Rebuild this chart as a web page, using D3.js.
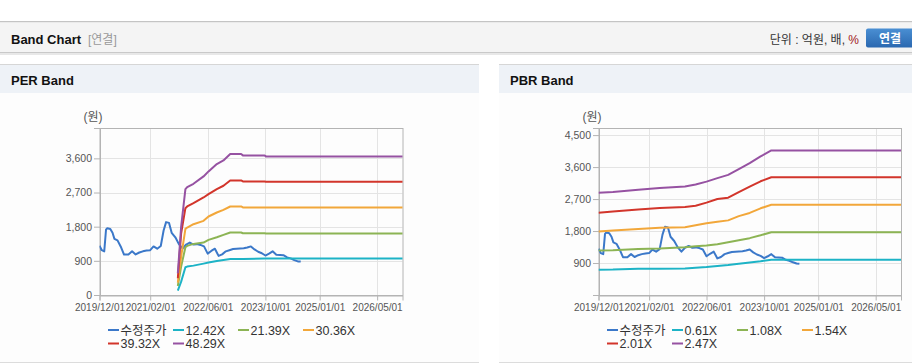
<!DOCTYPE html>
<html><head><meta charset="utf-8">
<script src="https://cdn.jsdelivr.net/npm/d3@7"></script>
<style>
body{margin:0;background:#fff;width:912px;height:364px;overflow:hidden;font-family:"Liberation Sans","Noto Sans CJK KR",Arial,sans-serif;}
</style></head>
<body><svg id="c" width="912" height="364"></svg>
<script>
// ---------- data ----------
const xTickLabels = ["2019/12/01","2021/02/01","2022/06/01","2023/10/01","2025/01/01","2026/05/01"];
const xDomain = ["2019-12-01","2026-12-01"];

const priceDates = ["2019-12-01","2019-12-20","2020-01-10","2020-01-25","2020-02-05","2020-03-01","2020-03-20","2020-04-05","2020-05-01","2020-06-01","2020-06-25","2020-08-01","2020-09-01","2020-10-01","2020-11-01","2020-12-01","2021-01-01","2021-02-01","2021-03-01","2021-04-01","2021-05-01","2021-05-25","2021-06-15","2021-07-10","2021-08-01","2021-09-01","2021-10-01","2021-11-01","2021-12-01","2022-01-01","2022-02-01","2022-03-01","2022-04-01","2022-05-01","2022-06-01","2022-07-01","2022-08-01","2022-09-01","2022-10-01","2022-11-01","2022-12-01","2023-01-01","2023-02-01","2023-03-01","2023-04-01","2023-05-01","2023-06-01","2023-07-01","2023-08-01","2023-09-01","2023-10-01","2023-11-01","2023-12-01","2024-01-01","2024-02-01","2024-03-01","2024-04-01","2024-05-01","2024-06-01","2024-07-01","2024-07-25"];
const priceValues = [1300,1180,1150,1720,1760,1740,1640,1480,1440,1250,1065,1065,1150,1070,1120,1150,1170,1180,1280,1220,1290,1700,1920,1900,1640,1520,1340,1220,1330,1380,1330,1340,1320,1280,1090,1160,1220,1030,1070,1150,1180,1210,1220,1225,1230,1250,1280,1200,1140,1100,1040,1090,1150,1060,1055,1050,990,965,920,885,880];

const perLabels = ["수정주가","12.42X","21.39X","30.36X","39.32X","48.29X"];
const perDates = ["2021-09-22","2021-10-20","2021-11-25","2021-12-10","2022-02-01","2022-04-27","2022-06-08","2022-08-17","2022-10-12","2022-12-08","2023-03-10","2023-03-25","2023-09-25","2023-10-05","2026-12-01"];
const per1242 = [114,352,730,748,774,827,854,898,924,950,950,950,959,959,959];
const per2139 = [238,748,1258,1294,1346,1382,1452,1522,1584,1646,1646,1628,1628,1619,1619];
const per3036 = [326,1012,1742,1778,1866,1954,2068,2174,2244,2332,2332,2306,2306,2306,2306];
const per3932 = [440,1628,2288,2332,2420,2570,2658,2790,2878,3018,3018,2992,2992,2983,2983];
const per4829 = [572,1804,2790,2842,2930,3124,3256,3450,3546,3714,3714,3678,3678,3652,3652];
const perYTicks = [0,900,1800,2700,3600];

const pbrLabels = ["수정주가","0.61X","1.08X","1.54X","2.01X","2.47X"];
const pbrDates = ["2019-12-01","2020-04-01","2020-11-01","2021-05-01","2021-12-01","2022-03-01","2022-06-01","2022-09-01","2022-12-01","2023-03-01","2023-06-01","2023-09-01","2023-12-01","2026-12-01"];
const pbr061 = [711,715,740,742,749,770,787,815,843,880,915,950,994,994];
const pbr108 = [1249,1260,1296,1310,1343,1370,1390,1430,1484,1540,1600,1680,1767,1767];
const pbr154 = [1786,1814,1858,1890,1908,1960,2020,2060,2100,2219,2310,2440,2540,2540];
const pbr201 = [2314,2351,2405,2446,2480,2510,2600,2700,2740,2898,3050,3200,3313,3313];
const pbr247 = [2879,2898,2960,3011,3055,3110,3190,3290,3380,3540,3710,3900,4067,4067];
const pbrYTicks = [900,1800,2700,3600,4500];

const colors = ["#3b78c9","#1db3c6","#8cb454","#f2a73a","#d2352b","#9652a2"];

// ---------- page chrome ----------
const svg = d3.select("#c");
const parse = d3.timeParse("%Y-%m-%d");
svg.append("rect").attr("x",0).attr("y",21).attr("width",912).attr("height",1.5).attr("fill","#c4c4c4");
svg.append("rect").attr("x",0).attr("y",22.5).attr("width",912).attr("height",29.5).attr("fill","#f4f4f4");
svg.append("rect").attr("x",0).attr("y",52).attr("width",912).attr("height",1).attr("fill","#c9c9c9");
svg.append("rect").attr("x",0).attr("y",53).attr("width",912).attr("height",2).attr("fill","#e8e8e8");
svg.append("text").attr("x",11).attr("y",43.5).attr("font-size",13).attr("font-weight","bold").attr("fill","#111").text("Band Chart");
svg.append("text").attr("x",88).attr("y",43.5).attr("font-size",12).attr("fill","#999").text("[연결]");
const unit = svg.append("text").attr("x",859).attr("y",43.5).attr("font-size",12).attr("fill","#333").attr("text-anchor","end");
unit.append("tspan").text("단위 : 억원, 배, ");
unit.append("tspan").attr("fill","#a02020").text("%");
const grad = svg.append("defs").append("linearGradient").attr("id","btn").attr("x1",0).attr("x2",0).attr("y1",0).attr("y2",1);
grad.append("stop").attr("offset","0").attr("stop-color","#4a8fd3");
grad.append("stop").attr("offset","1").attr("stop-color","#2a68b0");
svg.append("rect").attr("x",866).attr("y",28.5).attr("width",50).attr("height",19).attr("rx",2).attr("fill","url(#btn)");
svg.append("text").attr("x",890).attr("y",42.5).attr("font-size",12).attr("font-weight","bold").attr("fill","#fff").attr("text-anchor","middle").text("연결");

function panel(x0, w, title){
  svg.append("rect").attr("x",x0).attr("y",64).attr("width",w).attr("height",1).attr("fill","#d6d6d6");
  svg.append("rect").attr("x",x0).attr("y",65).attr("width",w).attr("height",28).attr("fill","#eef2f7");
  svg.append("rect").attr("x",x0).attr("y",93).attr("width",w).attr("height",269).attr("fill","#fdfdfd");
  svg.append("rect").attr("x",x0).attr("y",362).attr("width",w).attr("height",1).attr("fill","#dcdcdc");
  svg.append("text").attr("x",x0+11).attr("y",84.5).attr("font-size",13).attr("font-weight","bold").attr("fill","#111").text(title);
}
panel(0,479,"PER Band");
panel(499,413,"PBR Band");

function chart(opt){
  const g = svg.append("g");
  const x = d3.scaleTime().domain(xDomain.map(parse)).range([opt.left, opt.right]);
  const y = d3.scaleLinear().domain([0, opt.ymax]).range([opt.bottom, opt.top]);
  const tickDates = xTickLabels.map(d3.timeParse("%Y/%m/%d"));
  // grid
  g.selectAll(".hg").data(opt.yTicks).join("line").attr("x1",opt.left).attr("x2",opt.right)
    .attr("y1",d=>Math.round(y(d))+0.5).attr("y2",d=>Math.round(y(d))+0.5).attr("stroke","#e4e4e4");
  g.selectAll(".vg").data(tickDates).join("line").attr("y1",opt.top).attr("y2",opt.bottom)
    .attr("x1",d=>Math.round(x(d))+0.5).attr("x2",d=>Math.round(x(d))+0.5).attr("stroke","#e4e4e4");
  g.append("rect").attr("x",opt.left+0.5).attr("y",opt.top+0.5).attr("width",opt.right-opt.left).attr("height",opt.bottom-opt.top)
    .attr("fill","none").attr("stroke","#b4b4b4");
  // axes
  const ya = g.append("g").attr("transform",`translate(${opt.left+0.5},0)`)
    .call(d3.axisLeft(y).tickValues(opt.yTicks).tickFormat(d3.format(",")).tickSize(6).tickPadding(2));
  const xa = g.append("g").attr("transform",`translate(0,${opt.bottom+0.5})`)
    .call(d3.axisBottom(x).tickValues(tickDates).tickFormat(d3.timeFormat("%Y/%m/%d")).tickSize(5).tickPadding(3));
  [ya,xa].forEach(a=>{
    a.select(".domain").attr("stroke","#b4b4b4");
    a.selectAll(".tick line").attr("stroke","#b4b4b4");
    a.selectAll(".tick text").attr("fill","#555").attr("font-family","'Liberation Sans',Arial,sans-serif");
  });
  ya.selectAll(".tick text").attr("font-size",10.5);
  xa.selectAll(".tick text").attr("font-size",10);
  g.append("text").attr("x",opt.left-16).attr("y",opt.top-7).attr("font-size",12).attr("fill","#555").text("(원)");
  // lines
  const line = d3.line().x(d=>x(d[0])).y(d=>y(d[1]));
  const clip = "clip"+opt.left;
  svg.append("clipPath").attr("id",clip).append("rect").attr("x",opt.left).attr("y",opt.top).attr("width",opt.right-opt.left+1).attr("height",opt.bottom-opt.top);
  const lg = g.append("g").attr("clip-path",`url(#${clip})`);
  const series = [[priceDates, priceValues]].concat(opt.bands.map(b=>[opt.bandDates,b]));
  series.forEach((s,i)=>{
    const pts = s[0].map((d,j)=>[parse(d), s[1][j]]);
    lg.append("path").datum(pts).attr("d",line).attr("fill","none").attr("stroke",colors[i])
      .attr("stroke-width",2).attr("stroke-linejoin","round");
  });
  // legend
  opt.labels.forEach((t,i)=>{
    const col = i%4, row = Math.floor(i/4);
    const lx = opt.legendX + col*65, ly = 330 + row*13.5;
    g.append("line").attr("x1",lx).attr("x2",lx+11).attr("y1",ly).attr("y2",ly).attr("stroke",colors[i]).attr("stroke-width",2);
    g.append("text").attr("x",lx+12.5).attr("y",ly+4.5).attr("font-size",12.5).attr("fill","#333").text(t);
  });
}

chart({left:99.5,right:402.5,top:128,bottom:295,ymax:4400,yTicks:perYTicks,bandDates:perDates,
  bands:[per1242,per2139,per3036,per3932,per4829],labels:perLabels,legendX:108});
chart({left:598.5,right:901,top:128,bottom:295,ymax:4700,yTicks:pbrYTicks,bandDates:pbrDates,
  bands:[pbr061,pbr108,pbr154,pbr201,pbr247],labels:pbrLabels,legendX:607});
</script></body></html>
